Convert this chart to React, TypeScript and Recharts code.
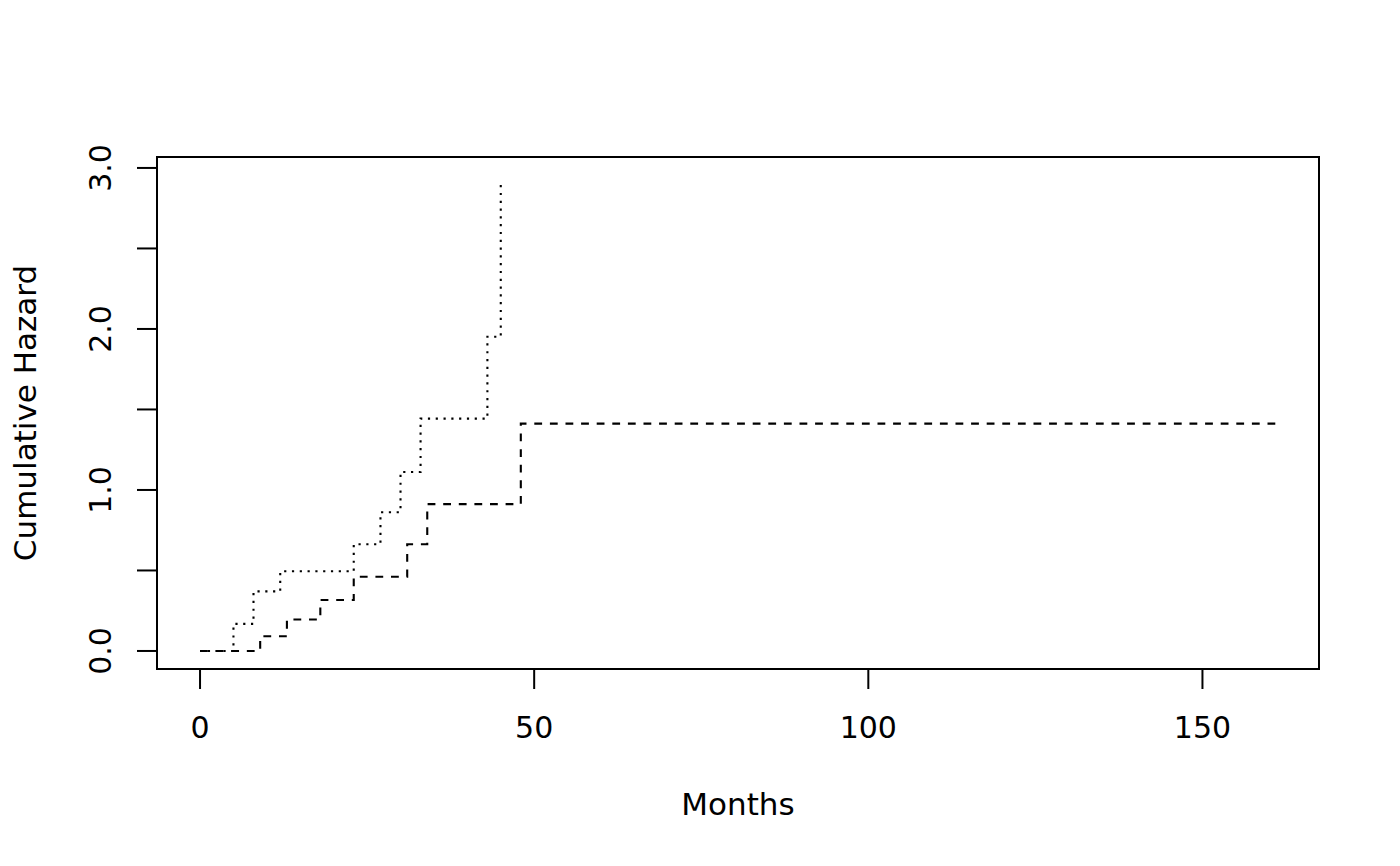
import { LineChart, Line, XAxis, YAxis, ReferenceArea } from 'recharts'

// step points (months, cumulative hazard)
const dashedMonths = [0, 9, 13, 18, 23, 31, 34, 48, 161]
const dashedHazard = [0, 0.091, 0.195, 0.317, 0.461, 0.663, 0.912, 1.412, 1.412]
const dottedMonths = [0, 5, 8, 12, 23, 27, 30, 33, 43, 45]
const dottedHazard = [0, 0.168, 0.37, 0.495, 0.663, 0.862, 1.112, 1.443, 1.952, 2.92]

const xTicks = [0, 50, 100, 150]
const yTicks = [0, 0.5, 1, 1.5, 2, 2.5, 3]
const yLabelled = [0, 1, 2, 3]

const xDomain: [number, number] = [-6.44, 167.44]
const yDomain: [number, number] = [-0.112, 3.068]

const font = '"DejaVu Sans", sans-serif'

const dashed = dashedMonths.map((t, i) => ({ t, h: dashedHazard[i] }))
const dotted = dottedMonths.map((t, i) => ({ t, h: dottedHazard[i] }))

function XTick({ x, y, payload }: any) {
    return (
        <text x={x} y={y} textAnchor="middle" fontSize={30} fontFamily={font} fill="#000">
            {payload.value}
        </text>
    )
}

function YTick({ x, y, payload }: any) {
    if (!yLabelled.includes(payload.value)) return <g />
    return (
        <text x={x} y={y} transform={`rotate(-90 ${x} ${y})`} textAnchor="middle" fontSize={30} fontFamily={font} fill="#000">
            {payload.value.toFixed(1)}
        </text>
    )
}

function XTitle({ viewBox }: any) {
    const cx = viewBox ? viewBox.x + viewBox.width / 2 : 738
    const top = viewBox ? viewBox.y : 669
    return (
        <text x={cx} y={top + 146} textAnchor="middle" fontSize={31} fontFamily={font} fill="#000">
            Months
        </text>
    )
}

function YTitle({ viewBox }: any) {
    const cy = viewBox ? viewBox.y + viewBox.height / 2 : 413
    const cx = 36
    return (
        <text x={cx} y={cy} transform={`rotate(-90 ${cx} ${cy})`} textAnchor="middle" fontSize={31} fontFamily={font} fill="#000">
            Cumulative Hazard
        </text>
    )
}

export default function App() {
    return (
        <div style={{ position: 'absolute', left: 0, top: 0, width: 1400, height: 866, background: '#fff' }}>
            <LineChart width={1400} height={866} margin={{ top: 157, right: 81, bottom: 0, left: 0 }}>
                <XAxis
                    dataKey="t"
                    type="number"
                    domain={xDomain}
                    ticks={xTicks}
                    height={197}
                    axisLine={false}
                    tickLine={{ stroke: '#000', strokeWidth: 2 }}
                    tickSize={20}
                    tickMargin={49}
                    tick={<XTick />}
                    allowDataOverflow
                    label={{ content: <XTitle /> }}
                />
                <YAxis
                    dataKey="h"
                    type="number"
                    domain={yDomain}
                    ticks={yTicks}
                    width={157}
                    axisLine={false}
                    tickLine={{ stroke: '#000', strokeWidth: 2 }}
                    tickSize={20}
                    tickMargin={26}
                    tick={<YTick />}
                    interval={0}
                    allowDataOverflow
                    label={{ content: <YTitle /> }}
                />
                <ReferenceArea
                    x1={xDomain[0]}
                    x2={xDomain[1]}
                    y1={yDomain[0]}
                    y2={yDomain[1]}
                    fill="none"
                    stroke="#000"
                    strokeWidth={2}
                    ifOverflow="visible"
                />
                <Line
                    data={dashed}
                    dataKey="h"
                    type="stepAfter"
                    stroke="#000"
                    strokeWidth={2.1}
                    strokeDasharray="7.8 7.8"
                    dot={false}
                    activeDot={false}
                    isAnimationActive={false}
                />
                <Line
                    data={dotted}
                    dataKey="h"
                    type="stepAfter"
                    stroke="#000"
                    strokeWidth={2.1}
                    strokeDasharray="2.2 5.6"
                    dot={false}
                    activeDot={false}
                    isAnimationActive={false}
                />
            </LineChart>
        </div>
    )
}
